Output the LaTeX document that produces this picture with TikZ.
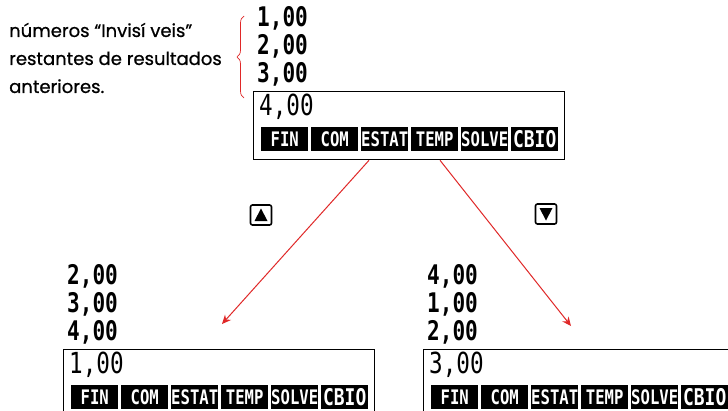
\documentclass[tikz,border=0pt]{standalone}
\usepackage{fontspec}
\setmainfont{Poppins}
\newfontfamily\notefont[FakeBold=0.8]{Poppins}
\newfontfamily\lcdfont[FakeStretch=0.78]{DejaVu Sans Mono}
\usetikzlibrary{arrows.meta, positioning, calc, decorations.pathreplacing}
\definecolor{arrowred}{RGB}{224,40,40}
\tikzset{
  screen/.style  = {draw, line width=1.3pt, anchor=north west, inner sep=0pt,
                    minimum width=311pt, minimum height=68pt},
  stackval/.style = {anchor=west, inner sep=0pt, font=\lcdfont\bfseries\fontsize{27}{27}\selectfont},
  lineval/.style  = {anchor=west, inner sep=0pt, font=\lcdfont\fontsize{29}{29}\selectfont},
  menutab/.style  = {fill=black, text=white, anchor=north west, inner sep=0pt,
                     minimum width=47pt, minimum height=24pt,
                     font=\lcdfont\bfseries\fontsize{20}{20}\selectfont},
  keybox/.style  = {draw, line width=1.6pt, rounded corners=2pt,
                    minimum width=21pt, minimum height=20pt, inner sep=0pt},
  redarrow/.style = {arrowred, line width=1pt, -{Stealth[length=9pt, width=8pt]}},
}

\begin{document}
\begin{tikzpicture}[x=1pt, y=-1pt]
    \clip (0,0) rectangle (728,410);
    \fill[white] (0,0) rectangle (728,410);

    %% Screens: name / left / top / command line / stack
    \foreach \nm/\x/\y/\val/\sa/\sb/\sc in {
      top/253/91/{4,00}/{1,00}/{2,00}/{3,00},
      up/63/349/{1,00}/{2,00}/{3,00}/{4,00},
      down/423/349/{3,00}/{4,00}/{1,00}/{2,00}}
    {
      \node[screen] (\nm-box) at (\x,\y) {};
      \node[lineval] (\nm-val) at (\x+6,\y+16) {\val};
      \node[stackval] (\nm-s3) at (\x+4,\y-17) {\sc};
      \node[stackval] (\nm-s2) at (\x+4,\y-45) {\sb};
      \node[stackval] (\nm-s1) at (\x+4,\y-73) {\sa};
      \foreach \i/\lbl in {0/FIN, 1/COM, 2/ESTAT, 3/TEMP, 4/SOLVE}
        \node[menutab] (\nm-tab\i) at (\x+8+50*\i,\y+36) {\lbl};
      \node[menutab, font=\lcdfont\bfseries\fontsize{23}{23}\selectfont] (\nm-tab5) at (\x+258,\y+36) {CBIO};
    }

    %% Note with brace
    \node[anchor=west, align=left, inner sep=0pt, font=\notefont\fontsize{18}{28}\selectfont] (note) at (9,58)
      {números “Invisí veis”\\restantes de resultados\\anteriores.};
    \draw[arrowred, line width=0.7pt, decorate, decoration={brace, amplitude=7pt}]
      (244,98) -- (244,16);

    %% Keys
    \node[keybox] (upkey) at (261,215) {};
    \fill ($(upkey.center)+(-6.5,6)$) -- ($(upkey.center)+(6.5,6)$) -- ($(upkey.center)+(0,-6.5)$) -- cycle;
    \node[keybox] (downkey) at (546,214) {};
    \fill ($(downkey.center)+(-6.5,-6)$) -- ($(downkey.center)+(6.5,-6)$) -- ($(downkey.center)+(0,6.5)$) -- cycle;

    %% Arrows
    \coordinate (upend) at (222,324);
    \coordinate (downend) at (571,326);
    \draw[redarrow] ([xshift=116pt]top-box.south west) -- (upend);
    \draw[redarrow] ([xshift=187pt]top-box.south west) -- (downend);

\end{tikzpicture}
\end{document}
